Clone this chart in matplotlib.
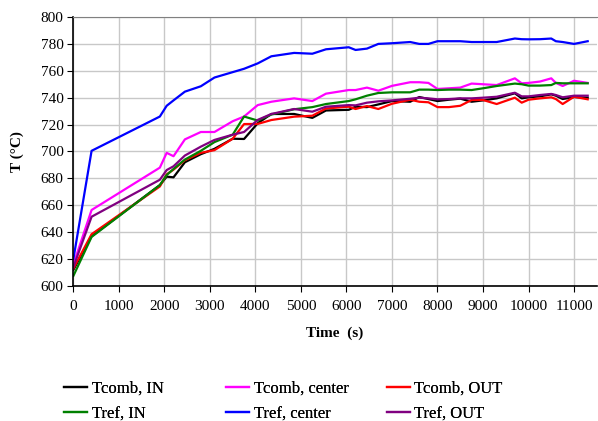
import matplotlib
matplotlib.use("Agg")
import matplotlib.pyplot as plt

time_s = [0, 400, 1900, 2050, 2200, 2450, 2800, 3100, 3500, 3750, 4050, 4350, 4850, 5250,
          5550, 6050, 6200, 6450, 6700, 7000, 7400, 7600, 7800, 8000, 8250, 8500, 8750,
          9000, 9300, 9700, 9850, 10000, 10250, 10500, 10600, 10750, 11000, 11300]

tcomb_in = [612, 637, 675, 681.3, 680.8, 692, 698, 702, 709.5, 709.3, 721, 727.9, 727.9, 725,
            730.5, 731, 733.3, 733, 735, 737.5, 737, 740.5, 739, 737.5, 738.5, 739.3, 737,
            738, 739.5, 743.3, 739.5, 740.3, 741, 742.5, 741.5, 739, 740.5, 740]
tcomb_center = [616, 656.5, 688, 699, 696.5, 709, 714.5, 714.5, 722.5, 726, 734.5, 737, 739.5, 737.5,
                743, 745.7, 745.7, 747.5, 745.2, 748.8, 751.5, 751.5, 751, 746.5, 747, 747.5, 750.5,
                750, 749.4, 754.4, 750.7, 751, 752, 754.4, 751, 748.7, 752.6, 751]
tcomb_out = [613, 638.5, 674, 683, 686.5, 693.5, 699, 701, 709.5, 720.4, 720.5, 723.4, 725.9, 726.6,
             732, 733.3, 731.6, 733.8, 731.6, 735.5, 738.5, 737, 736.6, 733, 733, 734, 738.3,
             738.3, 735.3, 740, 736.3, 738.5, 739.5, 740.3, 739, 735.3, 740.7, 738.8]
tref_in = [607.5, 636.5, 675, 682.5, 687, 694, 700.5, 707, 712.5, 726, 723, 727.5, 731.4, 733,
           735.3, 737.5, 738.8, 741.5, 743.5, 744, 744, 746, 746, 745.7, 746, 746, 745.7,
           747, 748.7, 750.5, 750, 749, 749, 749.4, 751, 750.7, 750.7, 750.7]
tref_center = [620, 700.5, 726, 734, 738, 744.5, 748.5, 755, 759, 761.5, 765.5, 770.8, 773.3, 772.7,
               776, 777.5, 775.5, 776.5, 780, 780.5, 781.4, 780, 780, 782, 782, 782, 781.4,
               781.4, 781.4, 784, 783.5, 783.4, 783.5, 784, 782, 781.4, 780, 782]
tref_out = [614, 651.5, 679, 686.2, 689, 697, 703.6, 708.6, 712.5, 714.5, 723.5, 727.9, 731.6, 729.6,
            733.3, 734.5, 734.3, 736.3, 737.3, 738, 739.2, 740, 739.5, 738.8, 739, 739.5, 739.5,
            740, 740.7, 743.7, 741, 741, 742, 742.8, 742, 740.3, 741.5, 741.5]

series = [
    ("Tcomb, IN", tcomb_in, "#000000"),
    ("Tcomb, center", tcomb_center, "#FF00FF"),
    ("Tcomb, OUT", tcomb_out, "#FF0000"),
    ("Tref, IN", tref_in, "#008000"),
    ("Tref, center", tref_center, "#0000FF"),
    ("Tref, OUT", tref_out, "#800080"),
]

xticks = list(range(0, 11001, 1000))
yticks = list(range(600, 801, 20))

plt.rcParams['font.family'] = ['Liberation Serif', 'DejaVu Serif']

W, H = 598, 421
fig = plt.figure(figsize=(W / 100, H / 100), dpi=100)
ax = fig.add_axes([0.1227, 0.3207, 0.8753, 0.6389])

lines = {}
for label, vals, col in series:
    ln, = ax.plot(time_s, vals, color=col, lw=1.6, label=label)
    lines[label] = ln

ax.set_xlim(0, 11500)
ax.set_ylim(600, 800)
ax.set_xticks(xticks)
ax.set_yticks(yticks)
ax.grid(True, color="#c8c8c8", lw=1)
ax.set_axisbelow(True)
ax.spines["top"].set_color("#808080")
ax.spines["right"].set_visible(False)
ax.spines["left"].set_color("black")
ax.spines["bottom"].set_color("black")
ax.spines["left"].set_linewidth(1.2)
ax.spines["bottom"].set_linewidth(1.2)
ax.tick_params(axis="both", labelsize=11, direction="out", length=4, color="black")
ax.tick_params(axis="y", pad=3)
ax.tick_params(axis="x", pad=6)

ax.set_xlabel("Time  (s)", fontsize=11, fontweight="bold", labelpad=10)
ax.set_ylabel("T (°C)", fontsize=11, fontweight="bold", labelpad=12)

# legend: three columns, each a separate legend at fixed positions
col_x = [64, 226, 387]
for i, x0 in enumerate(col_x):
    labs = [series[i][0], series[i + 3][0]]
    leg = fig.legend([lines[l] for l in labs], labs, loc="upper left",
                     bbox_to_anchor=(x0 / W, 1 - 381 / H), frameon=False,
                     fontsize=12, handlelength=1.35, handletextpad=0.3,
                     labelspacing=0.55, borderaxespad=0, borderpad=0)
    fig.add_artist(leg)

fig.savefig("out.png", dpi=100)
